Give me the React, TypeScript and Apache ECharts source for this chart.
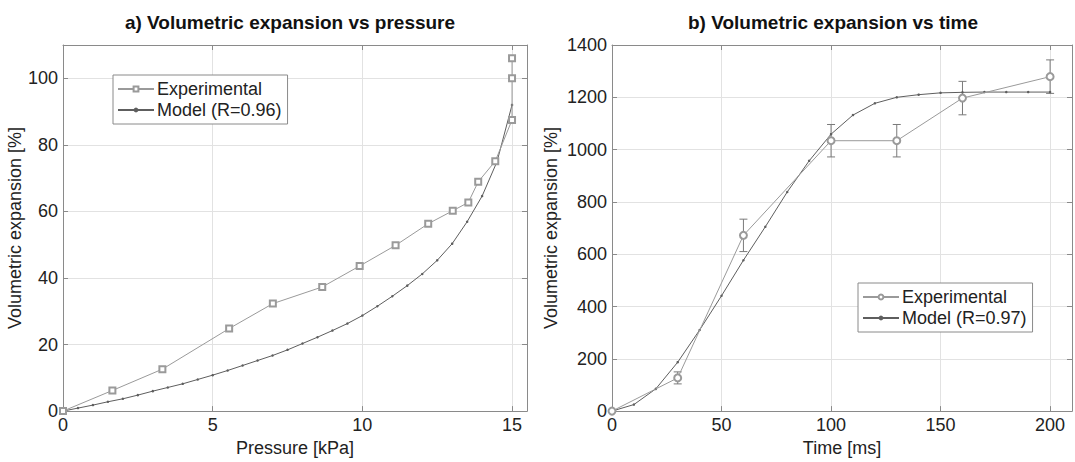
import React, { useEffect, useRef } from "react";
import * as echarts from "echarts";

// ---- Panel a) volumetric expansion vs pressure ----
const pressureExp = [0, 1.65, 3.32, 5.55, 7.01, 8.66, 9.91, 11.11, 12.2, 13.02, 13.54, 13.87, 14.44, 15, 15, 15];
const expansionExpA = [0, 6.2, 12.6, 24.8, 32.3, 37.3, 43.6, 49.8, 56.3, 60.2, 62.7, 68.9, 75.1, 87.5, 100, 106];
const pressureModel = [0, 0.5, 1, 1.5, 2, 2.5, 3, 3.5, 4, 4.5, 5, 5.5, 6, 6.5, 7, 7.5, 8, 8.5, 9, 9.5, 10, 10.5, 11, 11.5, 12, 12.5, 13, 13.5, 14, 14.5, 15];
const expansionModelA = [0, 0.9, 1.8, 2.8, 3.7, 4.8, 6.0, 7.1, 8.2, 9.5, 10.8, 12.2, 13.7, 15.2, 16.7, 18.4, 20.3, 22.2, 24.2, 26.3, 28.7, 31.5, 34.5, 37.7, 41.2, 45.3, 50.3, 56.9, 64.6, 75.0, 92.0];
const pressureTicks = [0, 5, 10, 15];
const expansionTicksA = [0, 20, 40, 60, 80, 100];

// ---- Panel b) volumetric expansion vs time ----
const timeExp = [0, 30, 60, 100, 130, 160, 200];
const expansionExpB = [0, 127, 672, 1034, 1034, 1197, 1279];
const errorExpB = [0, 23, 62, 62, 62, 64, 64];
const timeModel = [0, 10, 20, 30, 40, 50, 60, 70, 80, 90, 100, 110, 120, 130, 140, 150, 160, 170, 180, 190, 200];
const expansionModelB = [0, 25, 85, 187, 310, 441, 577, 705, 838, 957, 1059, 1132, 1177, 1200, 1210, 1217, 1219, 1220, 1220, 1220, 1220];
const timeTicks = [0, 50, 100, 150, 200];
const expansionTicksB = [0, 200, 400, 600, 800, 1000, 1200, 1400];

const titleA = "a) Volumetric expansion vs pressure";
const titleB = "b) Volumetric expansion vs time";
const yName = "Volumetric expansion [%]";
const xNameA = "Pressure [kPa]";
const xNameB = "Time [ms]";
const expNameA = "Experimental (a)";
const expNameB = "Experimental (b)";
const modelNameA = "Model (R=0.96)";
const modelNameB = "Model (R=0.97)";

const FONT = "Liberation Sans, Arial, Helvetica, sans-serif";
const TEXT = "#222";
const AXIS = "#8a8a8a";
const GRIDC = "#e2e2e2";
const EXPC = "#9a9a9a";
const MODC = "#5e5e5e";

function zip(a: number[], b: number[]) {
  return a.map((v, i) => [v, b[i]]);
}

function valueAxis(
  gridIndex: number,
  position: string,
  min: number,
  max: number,
  interval: number,
  ticks: number[],
  main: boolean,
  name: string,
  nameGap: number
) {
  return {
    type: "value",
    gridIndex,
    position,
    min,
    max,
    interval,
    name: main ? name : "",
    nameLocation: "middle",
    nameGap,
    nameTextStyle: { fontFamily: FONT, fontSize: 18, color: TEXT },
    axisLine: { show: true, onZero: false, lineStyle: { color: AXIS, width: 1 } },
    axisTick: { show: true, inside: true, length: 5, lineStyle: { color: AXIS } },
    axisLabel: {
      show: main,
      fontFamily: FONT,
      fontSize: 18,
      color: TEXT,
      margin: 5,
      formatter: (v: number) => (ticks.indexOf(v) >= 0 ? String(v) : ""),
    },
    splitLine: { show: main, lineStyle: { color: GRIDC, width: 1 } },
  };
}

export default function App() {
  const ref = useRef<HTMLDivElement>(null);
  useEffect(() => {
    if (!ref.current) return;
    const chart = echarts.init(ref.current, null, { renderer: "svg" });

    const errorData = timeExp
      .map((t, i) => [t, expansionExpB[i], errorExpB[i]])
      .filter((d) => d[2] > 0);

    const legendCommon = {
      orient: "vertical",
      backgroundColor: "#fff",
      borderColor: "#8a8a8a",
      borderWidth: 1,
      borderRadius: 0,
      padding: [4, 6, 4, 4],
      itemWidth: 36,
      itemHeight: 6,
      itemGap: 1,
      textStyle: { fontFamily: FONT, fontSize: 18, color: TEXT, lineHeight: 20, padding: [0, 0, 0, -2] },
      formatter: (n: string) => n.replace(/ \([ab]\)$/, ""),
      selectedMode: false,
    };

    chart.setOption({
      animation: false,
      backgroundColor: "#fff",
      textStyle: { fontFamily: FONT },
      grid: [
        { left: 63, top: 45, width: 464, height: 367, show: false },
        { left: 612, top: 45, width: 466, height: 367, show: false },
      ],
      xAxis: [
        valueAxis(0, "bottom", 0, 15.5, 5, pressureTicks, true, xNameA, 23),
        valueAxis(0, "top", 0, 15.5, 5, pressureTicks, false, "", 0),
        valueAxis(1, "bottom", 0, 210, 50, timeTicks, true, xNameB, 23),
        valueAxis(1, "top", 0, 210, 50, timeTicks, false, "", 0),
      ],
      yAxis: [
        valueAxis(0, "left", 0, 110, 20, expansionTicksA, true, yName, 34),
        valueAxis(0, "right", 0, 110, 20, expansionTicksA, false, "", 0),
        valueAxis(1, "left", 0, 1400, 200, expansionTicksB, true, yName, 52),
        valueAxis(1, "right", 0, 1400, 200, expansionTicksB, false, "", 0),
      ],
      legend: [
        { ...legendCommon, left: 113, top: 75, data: [expNameA, modelNameA] },
        { ...legendCommon, left: 858, top: 283, data: [expNameB, modelNameB] },
      ],
      graphic: [
        {
          type: "text",
          x: 290,
          y: 22,
          style: { text: titleA, fill: "#111", font: `bold 19px ${FONT}`, textAlign: "center", textVerticalAlign: "middle" },
        },
        {
          type: "text",
          x: 833,
          y: 22,
          style: { text: titleB, fill: "#111", font: `bold 19px ${FONT}`, textAlign: "center", textVerticalAlign: "middle" },
        },
      ],
      series: [
        {
          name: modelNameA,
          type: "line",
          xAxisIndex: 0,
          yAxisIndex: 0,
          data: zip(pressureModel, expansionModelA),
          symbol: "circle",
          symbolSize: 2.5,
          itemStyle: { color: MODC },
          lineStyle: { color: MODC, width: 1 },
          z: 3,
        },
        {
          name: expNameA,
          type: "line",
          xAxisIndex: 0,
          yAxisIndex: 0,
          data: zip(pressureExp, expansionExpA),
          symbol: "emptyRect",
          symbolSize: 6,
          itemStyle: { color: EXPC, borderWidth: 1 },
          lineStyle: { color: EXPC, width: 1 },
          z: 4,
        },
        {
          name: modelNameB,
          type: "line",
          xAxisIndex: 2,
          yAxisIndex: 2,
          data: zip(timeModel, expansionModelB),
          symbol: "circle",
          symbolSize: 2.5,
          itemStyle: { color: MODC },
          lineStyle: { color: MODC, width: 1 },
          z: 3,
        },
        {
          name: expNameB,
          type: "line",
          xAxisIndex: 2,
          yAxisIndex: 2,
          data: zip(timeExp, expansionExpB),
          symbol: "emptyCircle",
          symbolSize: 7,
          itemStyle: { color: EXPC, borderWidth: 1 },
          lineStyle: { color: EXPC, width: 1 },
          z: 4,
        },
        {
          name: "errors",
          type: "custom",
          xAxisIndex: 2,
          yAxisIndex: 2,
          data: errorData,
          encode: { x: 0, y: 1 },
          z: 2,
          renderItem: (params: any, api: any) => {
            const x = api.value(0);
            const y = api.value(1);
            const e = api.value(2);
            const top = api.coord([x, y + e]);
            const bot = api.coord([x, y - e]);
            const w = 4;
            const st = { stroke: "#7a7a7a", lineWidth: 1 };
            return {
              type: "group",
              children: [
                { type: "line", shape: { x1: top[0], y1: top[1], x2: bot[0], y2: bot[1] }, style: st },
                { type: "line", shape: { x1: top[0] - w, y1: top[1], x2: top[0] + w, y2: top[1] }, style: st },
                { type: "line", shape: { x1: bot[0] - w, y1: bot[1], x2: bot[0] + w, y2: bot[1] }, style: st },
              ],
            };
          },
        },
      ],
    });
    return () => chart.dispose();
  }, []);

  return (
    <div
      ref={ref}
      style={{ position: "absolute", left: 0, top: 0, width: 1075, height: 462, background: "#fff" }}
    />
  );
}
